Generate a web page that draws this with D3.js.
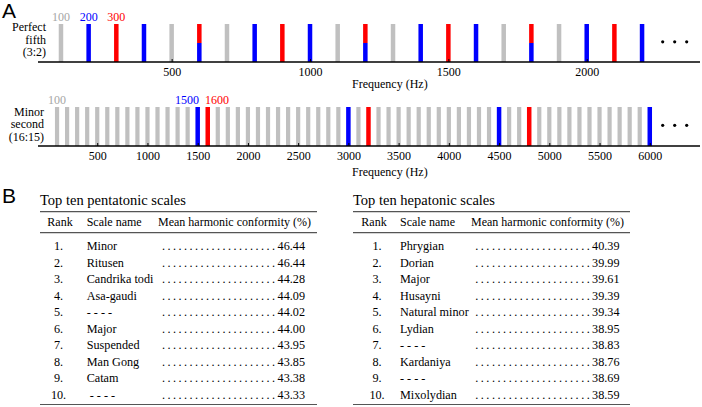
<!DOCTYPE html>
<html><head><meta charset="utf-8">
<script src="https://cdn.jsdelivr.net/npm/d3@7"></script>
<style>body{margin:0;background:#fff}svg{display:block}
svg text{font-family:"Liberation Serif","Times New Roman","DejaVu Serif",serif}
svg text.sans{font-family:"Liberation Sans",Arial,sans-serif}
</style>
</head><body>
<svg id="c" width="702" height="407"></svg>
<script>
// ---- data ----
const fifthFundamental = 100;
const fifthHarmonics = d3.range(100, 2201, 100);
const fifthLower = 200;   // blue
const fifthUpper = 300;   // red
const fifthTicks = [500, 1000, 1500, 2000];

const secondFundamental = 100;
const secondHarmonics = d3.range(100, 6001, 100);
const secondLower = 1500; // blue
const secondUpper = 1600; // red
const secondTicks = [500,1000,1500,2000,2500,3000,3500,4000,4500,5000,5500,6000];

const pentaRanks = ["1.","2.","3.","4.","5.","6.","7.","8.","9.","10."];
const pentaNames = ["Minor","Ritusen","Candrika todi","Asa-gaudi","- - - -","Major","Suspended","Man Gong","Catam","- - - -"];
const pentaValues = [46.44,46.44,44.28,44.09,44.02,44.00,43.95,43.85,43.38,43.33];

const heptaRanks = ["1.","2.","3.","4.","5.","6.","7.","8.","9.","10."];
const heptaNames = ["Phrygian","Dorian","Major","Husayni","Natural minor","Lydian","- - - -","Kardaniya","- - - -","Mixolydian"];
const heptaValues = [40.39,39.99,39.61,39.39,39.34,38.95,38.83,38.76,38.69,38.59];

const GRAY = "#c0c0c0", BLUE = "#0000ff", RED = "#ff0000", LABELGRAY = "#a6a6a6";

const svg = d3.select("#c");

svg.append("text").attr("class", "sans").attr("x", 2).attr("y", 18).attr("font-size", 21).text("A");
svg.append("text").attr("class", "sans").attr("x", 2).attr("y", 203).attr("font-size", 21).text("B");

function spectrum(opt) {
  const g = svg.append("g");
  const x = d3.scaleLinear().domain(opt.domain).range(opt.range);
  const y = d3.scaleLinear().domain([0, 1]).range([opt.axisY, opt.barTop]);
  const bars = opt.harmonics.map(f => ({f, lo: f % opt.lower === 0, hi: f % opt.upper === 0}));
  const bar = (cls, data, w, y0, y1, fill) => g.selectAll("rect." + cls).data(data).join("rect")
    .attr("class", cls).attr("x", d => x(d.f) - w / 2).attr("width", w)
    .attr("y", y(y1)).attr("height", y(y0) - y(y1)).attr("fill", fill);
  bar("g", bars.filter(d => !d.lo && !d.hi), opt.gw, 0, 1, GRAY);
  bar("b", bars.filter(d => d.lo && !d.hi), opt.cw, 0, 1, BLUE);
  bar("r", bars.filter(d => d.hi && !d.lo), opt.cw, 0, 1, RED);
  const both = bars.filter(d => d.hi && d.lo);
  bar("sb", both, opt.cw, 0, 0.5, BLUE);
  bar("sr", both, opt.cw, 0.5, 1, RED);

  const ax = g.append("g").attr("transform", `translate(0,${opt.axisY})`)
    .call(d3.axisBottom(x).tickValues(opt.ticks).tickSizeInner(-3).tickSizeOuter(0).tickPadding(opt.pad).tickFormat(d3.format("d")));
  ax.attr("font-family", null);
  ax.select(".domain").remove();
  ax.selectAll("text").attr("font-size", 12).attr("fill", "#000");
  ax.selectAll("line").attr("stroke", "#000");
  g.append("line").attr("x1", opt.lineX[0]).attr("x2", opt.lineX[1])
    .attr("y1", opt.axisY).attr("y2", opt.axisY).attr("stroke", "#000").attr("stroke-width", 1.5);
  g.append("text").attr("x", 352).attr("y", opt.axisY + opt.freqDy).attr("font-size", 12).text("Frequency (Hz)");

  g.selectAll("circle.dot").data([0, 1, 2]).join("circle")
    .attr("cx", d => 662.7 + d * 12).attr("cy", y(0.53)).attr("r", 1.6).attr("fill", "#000");

  opt.labels.forEach(l => {
    g.append("text").attr("x", x(l.f) + (l.dx || 0)).attr("y", opt.barTop - 3)
      .attr("text-anchor", l.anchor || "middle").attr("fill", l.color)
      .attr("font-size", 12).text(l.f);
  });
  opt.name.forEach((s, i) => {
    g.append("text").attr("x", opt.nameX).attr("y", opt.nameY + i * 12.5)
      .attr("text-anchor", "end").attr("font-size", 12).text(s);
  });
}

spectrum({
  domain: [0, 2400], range: [33.3, 697.4], axisY: 62, barTop: 24, lineX: [38, 700], pad: 5, freqDy: 26,
  harmonics: fifthHarmonics, lower: fifthLower, upper: fifthUpper, ticks: fifthTicks,
  gw: 4.5, cw: 4.5,
  labels: [{f: fifthFundamental, color: LABELGRAY}, {f: fifthLower, color: BLUE}, {f: fifthUpper, color: RED}],
  name: ["Perfect", "fifth", "(3:2)"], nameX: 46, nameY: 31
});
spectrum({
  domain: [0, 6500], range: [47, 700], axisY: 146, barTop: 107, lineX: [38, 700], pad: 5, freqDy: 30,
  harmonics: secondHarmonics, lower: secondLower, upper: secondUpper, ticks: secondTicks,
  gw: 4.2, cw: 4.5,
  labels: [{f: secondFundamental, color: LABELGRAY}, {f: secondLower, color: BLUE, anchor: "end", dx: 1.3}, {f: secondUpper, color: RED, anchor: "start", dx: -2.8}],
  name: ["Minor", "second", "(16:15)"], nameX: 44, nameY: 115.5
});

function table(opt) {
  const g = svg.append("g").attr("fill", "#000");
  g.append("text").attr("x", opt.x0).attr("y", 205).attr("font-size", 14.5).text(opt.title);
  const rule = (yy) => g.append("line").attr("x1", opt.x0).attr("x2", opt.x1)
    .attr("y1", yy).attr("y2", yy).attr("stroke", "#555").attr("stroke-width", 1.2);
  rule(211.7); rule(232.7); rule(404.5);
  g.append("text").attr("x", opt.rankHX).attr("y", 226).attr("font-size", 12).attr("text-anchor", "middle").text("Rank");
  g.append("text").attr("x", opt.nameX).attr("y", 226).attr("font-size", 12).text("Scale name");
  g.append("text").attr("x", opt.x1 - 6).attr("y", 226).attr("font-size", 12).attr("text-anchor", "end").text("Mean harmonic conformity (%)");
  const y = d3.scalePoint().domain(d3.range(10)).range([250, 398.6]);
  const rows = d3.range(10).map(i => ({i, r: opt.ranks[i], n: opt.names[i], v: opt.values[i]}));
  const rg = g.selectAll("g.row").data(rows).join("g").attr("class", "row").attr("font-size", 12.2);
  rg.append("text").attr("x", opt.rankX).attr("y", d => y(d.i)).attr("text-anchor", "middle").text(d => d.r);
  rg.append("text").attr("x", d => opt.nameX + (d.i === 9 && d.n.startsWith("-") ? opt.dashIndent : 0))
    .attr("y", d => y(d.i)).text(d => d.n);
  rg.append("text").attr("x", opt.valX).attr("y", d => y(d.i)).attr("text-anchor", "end").text(d => d.v.toFixed(2));
  const dotXs = d3.range(21).map(k => opt.dotX0 + k * opt.dotStep);
  rg.each(function(d) {
    d3.select(this).selectAll("text.ld").data(dotXs).join("text").attr("class", "ld")
      .attr("x", dx => dx).attr("y", y(d.i)).attr("text-anchor", "middle").text(".");
  });
}
table({x0: 40, x1: 317, title: "Top ten pentatonic scales", rankX: 58.5, rankHX: 60, nameX: 86.7, dashIndent: 3,
  valX: 305, dotX0: 163.5, dotStep: 5.5, ranks: pentaRanks, names: pentaNames, values: pentaValues});
table({x0: 353, x1: 630, title: "Top ten hepatonic scales", rankX: 377, rankHX: 374, nameX: 400, dashIndent: 0,
  valX: 619.5, dotX0: 476.7, dotStep: 5.58, ranks: heptaRanks, names: heptaNames, values: heptaValues});
</script>
</body></html>
